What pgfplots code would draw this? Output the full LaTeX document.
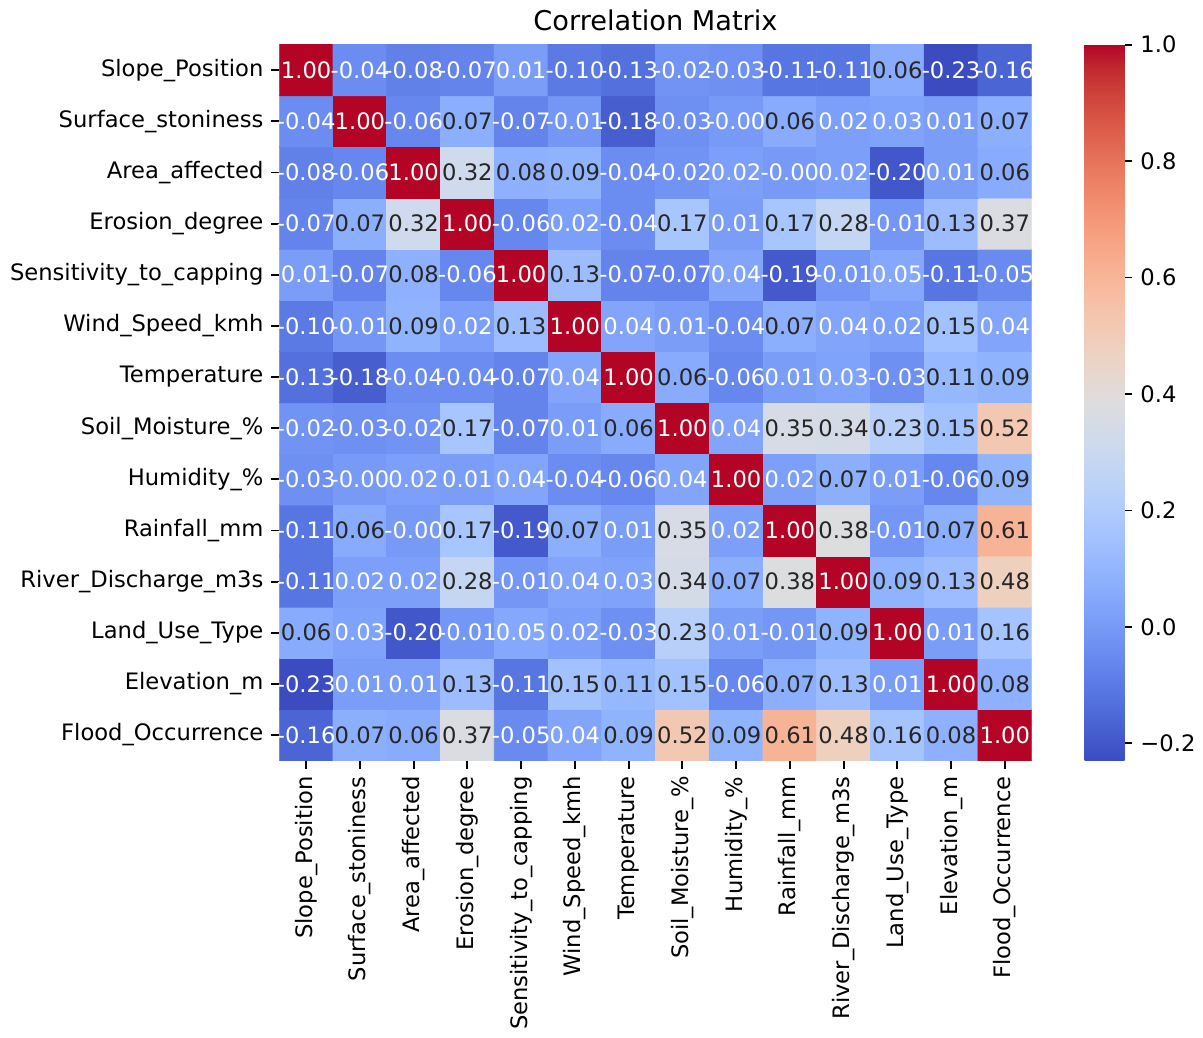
\documentclass[border=0pt]{standalone}
\usepackage{fontspec}
\setmainfont{DejaVu Sans}
\usepackage{pgfplots}
\pgfplotsset{compat=1.18}
\usepackage{pgfplotstable}
\definecolor{tdark}{gray}{0.15}
\pgfplotsset{colormap={coolwarm}{
rgb255(0cm)=(59,76,192) rgb255(1cm)=(68,90,204) rgb255(2cm)=(77,104,215) rgb255(3cm)=(87,117,225)
rgb255(4cm)=(98,130,234) rgb255(5cm)=(108,142,241) rgb255(6cm)=(119,154,247) rgb255(7cm)=(130,165,251)
rgb255(8cm)=(141,176,254) rgb255(9cm)=(152,185,255) rgb255(10cm)=(163,194,255) rgb255(11cm)=(174,201,253)
rgb255(12cm)=(184,208,249) rgb255(13cm)=(194,213,244) rgb255(14cm)=(204,217,238) rgb255(15cm)=(213,219,230)
rgb255(16cm)=(221,221,221) rgb255(17cm)=(229,216,209) rgb255(18cm)=(236,211,197) rgb255(19cm)=(241,204,185)
rgb255(20cm)=(245,196,173) rgb255(21cm)=(247,187,160) rgb255(22cm)=(247,177,148) rgb255(23cm)=(247,166,135)
rgb255(24cm)=(244,154,123) rgb255(25cm)=(241,141,111) rgb255(26cm)=(236,127,99) rgb255(27cm)=(229,112,88)
rgb255(28cm)=(222,96,77) rgb255(29cm)=(213,80,66) rgb255(30cm)=(203,62,56) rgb255(31cm)=(192,40,47)
rgb255(32cm)=(180,4,38)}}
\pgfplotstableread{
x y c
0 0 -0.16
1 0 0.07
2 0 0.06
3 0 0.37
4 0 -0.05
5 0 0.04
6 0 0.09
7 0 0.52
8 0 0.09
9 0 0.61
10 0 0.48
11 0 0.16
12 0 0.08
13 0 1.00
0 1 -0.23
1 1 0.01
2 1 0.01
3 1 0.13
4 1 -0.11
5 1 0.15
6 1 0.11
7 1 0.15
8 1 -0.06
9 1 0.07
10 1 0.13
11 1 0.01
12 1 1.00
13 1 0.08
0 2 0.06
1 2 0.03
2 2 -0.20
3 2 -0.01
4 2 0.05
5 2 0.02
6 2 -0.03
7 2 0.23
8 2 0.01
9 2 -0.01
10 2 0.09
11 2 1.00
12 2 0.01
13 2 0.16
0 3 -0.11
1 3 0.02
2 3 0.02
3 3 0.28
4 3 -0.01
5 3 0.04
6 3 0.03
7 3 0.34
8 3 0.07
9 3 0.38
10 3 1.00
11 3 0.09
12 3 0.13
13 3 0.48
0 4 -0.11
1 4 0.06
2 4 -0.00
3 4 0.17
4 4 -0.19
5 4 0.07
6 4 0.01
7 4 0.35
8 4 0.02
9 4 1.00
10 4 0.38
11 4 -0.01
12 4 0.07
13 4 0.61
0 5 -0.03
1 5 -0.00
2 5 0.02
3 5 0.01
4 5 0.04
5 5 -0.04
6 5 -0.06
7 5 0.04
8 5 1.00
9 5 0.02
10 5 0.07
11 5 0.01
12 5 -0.06
13 5 0.09
0 6 -0.02
1 6 -0.03
2 6 -0.02
3 6 0.17
4 6 -0.07
5 6 0.01
6 6 0.06
7 6 1.00
8 6 0.04
9 6 0.35
10 6 0.34
11 6 0.23
12 6 0.15
13 6 0.52
0 7 -0.13
1 7 -0.18
2 7 -0.04
3 7 -0.04
4 7 -0.07
5 7 0.04
6 7 1.00
7 7 0.06
8 7 -0.06
9 7 0.01
10 7 0.03
11 7 -0.03
12 7 0.11
13 7 0.09
0 8 -0.10
1 8 -0.01
2 8 0.09
3 8 0.02
4 8 0.13
5 8 1.00
6 8 0.04
7 8 0.01
8 8 -0.04
9 8 0.07
10 8 0.04
11 8 0.02
12 8 0.15
13 8 0.04
0 9 0.01
1 9 -0.07
2 9 0.08
3 9 -0.06
4 9 1.00
5 9 0.13
6 9 -0.07
7 9 -0.07
8 9 0.04
9 9 -0.19
10 9 -0.01
11 9 0.05
12 9 -0.11
13 9 -0.05
0 10 -0.07
1 10 0.07
2 10 0.32
3 10 1.00
4 10 -0.06
5 10 0.02
6 10 -0.04
7 10 0.17
8 10 0.01
9 10 0.17
10 10 0.28
11 10 -0.01
12 10 0.13
13 10 0.37
0 11 -0.08
1 11 -0.06
2 11 1.00
3 11 0.32
4 11 0.08
5 11 0.09
6 11 -0.04
7 11 -0.02
8 11 0.02
9 11 -0.00
10 11 0.02
11 11 -0.20
12 11 0.01
13 11 0.06
0 12 -0.04
1 12 1.00
2 12 -0.06
3 12 0.07
4 12 -0.07
5 12 -0.01
6 12 -0.18
7 12 -0.03
8 12 -0.00
9 12 0.06
10 12 0.02
11 12 0.03
12 12 0.01
13 12 0.07
0 13 1.00
1 13 -0.04
2 13 -0.08
3 13 -0.07
4 13 0.01
5 13 -0.10
6 13 -0.13
7 13 -0.02
8 13 -0.03
9 13 -0.11
10 13 -0.11
11 13 0.06
12 13 -0.23
13 13 -0.16
}\corr
\begin{document}
\begin{tikzpicture}
\begin{axis}[
  width=332.3pt, height=316.2pt, scale only axis,
  xmin=-0.5, xmax=13.5, ymin=-0.5, ymax=13.5,
  enlargelimits=false,
  colormap name=coolwarm,
  point meta min=-0.2295, point meta max=1,
  axis line style={draw=none},
  tick align=outside, major tick length=3.5pt,
  tick style={black, line width=0.8pt},
  xtick={0,...,13}, ytick={0,...,13},
  xtick pos=bottom, ytick pos=left,
  xticklabels={Slope\_Position, Surface\_stoniness, Area\_affected, Erosion\_degree, Sensitivity\_to\_capping, Wind\_Speed\_kmh, Temperature, Soil\_Moisture\_\%, Humidity\_\%, Rainfall\_mm, River\_Discharge\_m3s, Land\_Use\_Type, Elevation\_m, Flood\_Occurrence},
  yticklabels={Flood\_Occurrence, Elevation\_m, Land\_Use\_Type, River\_Discharge\_m3s, Rainfall\_mm, Humidity\_\%, Soil\_Moisture\_\%, Temperature, Wind\_Speed\_kmh, Sensitivity\_to\_capping, Erosion\_degree, Area\_affected, Surface\_stoniness, Slope\_Position},
  xticklabel style={rotate=90, anchor=east, font=\fontsize{10}{12}\selectfont},
  yticklabel style={font=\fontsize{10}{12}\selectfont},
  title={Correlation Matrix},
  title style={font=\fontsize{12}{14.4}\selectfont, anchor=base, inner sep=0pt, yshift=0.2pt},
  colorbar,
  colorbar/width=17.6pt,
  colorbar style={
    width=17.6pt,
    xshift=13.8pt,
    axis line style={draw=none},
    ytick={-0.2,0,0.2,0.4,0.6,0.8,1},
    yticklabels={−0.2,0.0,0.2,0.4,0.6,0.8,1.0},
    yticklabel style={font=\fontsize{10}{12}\selectfont},
    tick align=outside, major tick length=3.5pt,
    tick style={black, line width=0.8pt},
    ytick pos=right, yticklabel pos=right,
  },
]
\addplot[matrix plot*, mesh/cols=14, point meta=explicit] table[x=x, y=y, meta=c] {\corr};
\addplot[draw=none, mark=none, point meta=explicit symbolic,
  visualization depends on={\thisrow{c} \as \cval},
  nodes near coords={\pgfmathtruncatemacro\wt{or(\cval<0.055,\cval>0.8)}\ifnum\wt=1 \color{white}\else\color{tdark}\fi\pgfplotspointmeta},
  nodes near coords align=center,
  every node near coord/.append style={inner sep=0pt, font=\fontsize{10}{12}\selectfont}]
  table[x=x, y=y, meta=c] {\corr};
\end{axis}
\path ([xshift=-1.1pt,yshift=4.4pt]current bounding box.north west) (current bounding box.south east);
\end{tikzpicture}
\end{document}
